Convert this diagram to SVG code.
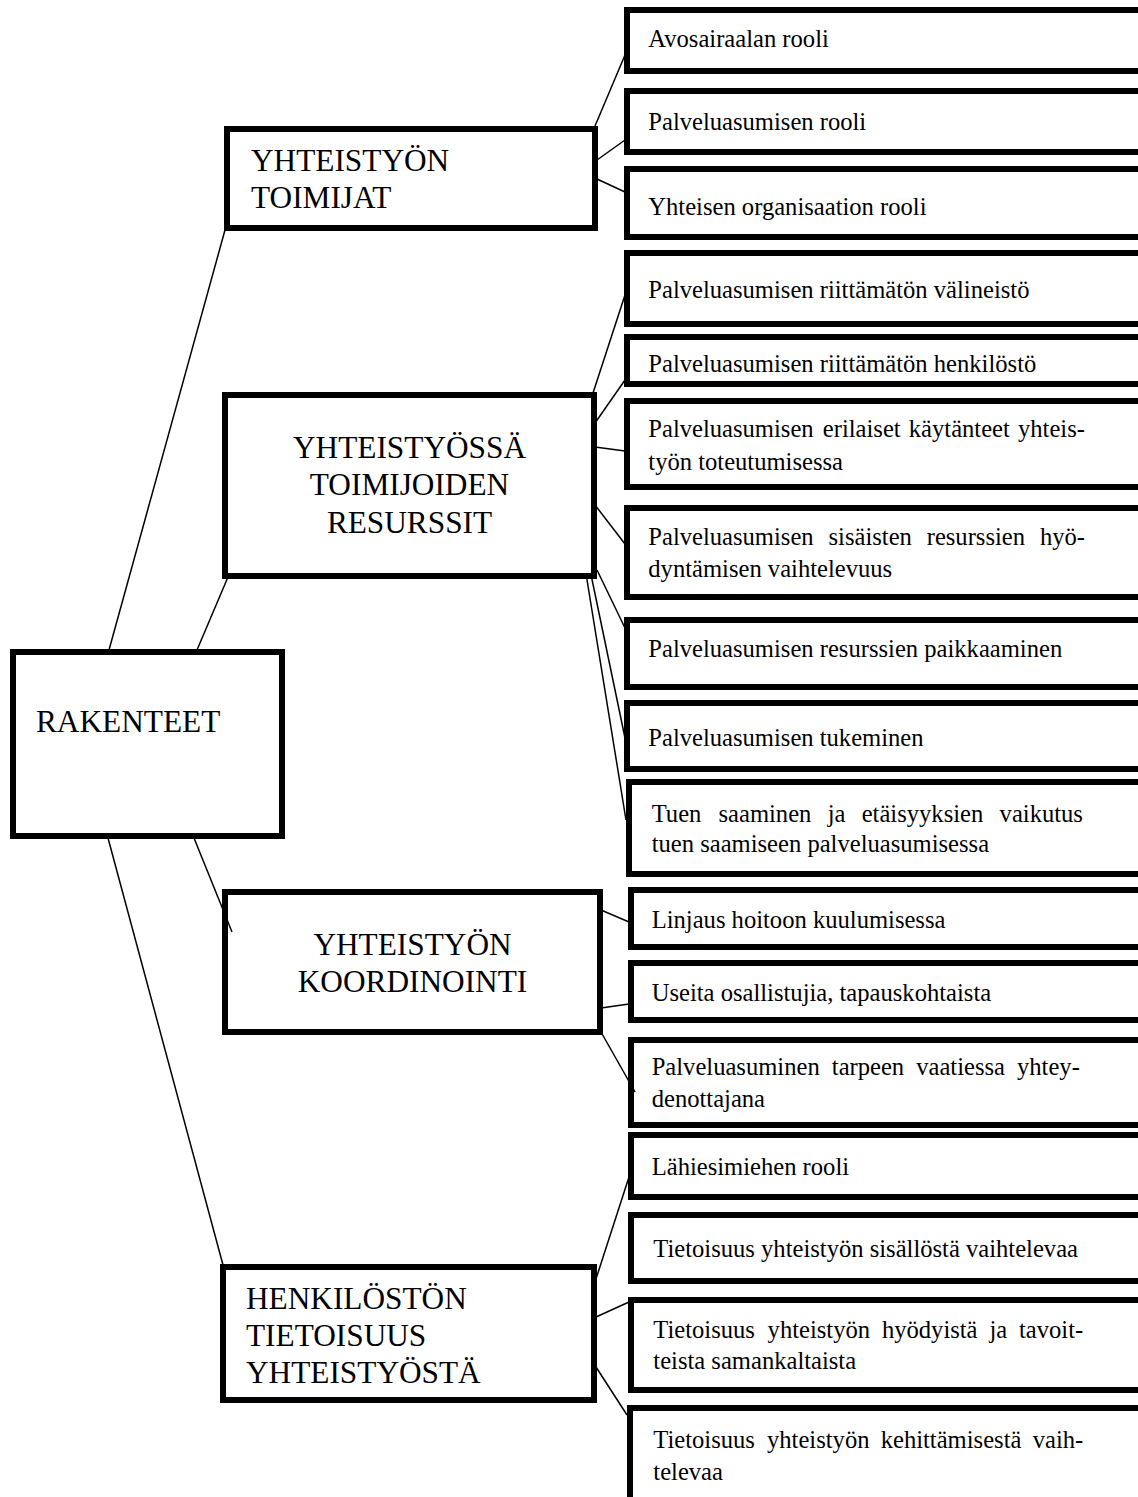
<svg xmlns="http://www.w3.org/2000/svg" width="1138" height="1497" viewBox="0 0 1138 1497">
<style>
.box{fill:#fff;stroke:#000;stroke-width:6}
.big{font-family:"Liberation Serif","Times New Roman",serif;font-size:31.3px;fill:#000}
.sm{font-family:"Liberation Serif","Times New Roman",serif;font-size:24.6px;fill:#000}
.c{text-anchor:middle}
.ln{stroke:#000;stroke-width:1.5;fill:none}
</style>
<rect width="1138" height="1497" fill="#fff"/>
<g id="rakenteet"><rect class="box" x="13" y="652" width="269" height="184"/><text class="big" x="36" y="732">RAKENTEET</text></g>
<g id="toimijat"><rect class="box" x="227" y="129" width="368" height="99"/><text class="big" x="251" y="171">YHTEISTYÖN</text><text class="big" x="251" y="208">TOIMIJAT</text></g>
<g id="resurssit"><rect class="box" x="225" y="395" width="369" height="181"/><text class="big c" x="409.5" y="458">YHTEISTYÖSSÄ</text><text class="big c" x="409.5" y="495">TOIMIJOIDEN</text><text class="big c" x="409.5" y="533">RESURSSIT</text></g>
<g id="koordinointi"><rect class="box" x="225" y="892" width="375" height="140"/><text class="big c" x="412.5" y="955">YHTEISTYÖN</text><text class="big c" x="412.5" y="992">KOORDINOINTI</text></g>
<g id="tietoisuus"><rect class="box" x="223" y="1267" width="371" height="133"/><text class="big" x="246" y="1309">HENKILÖSTÖN</text><text class="big" x="246" y="1346">TIETOISUUS</text><text class="big" x="246" y="1383">YHTEISTYÖSTÄ</text></g>

<g id="n1"><rect class="box" x="627" y="10" width="520" height="61"/><text class="sm" x="648.3" y="47">Avosairaalan rooli</text></g>
<g id="n2"><rect class="box" x="627" y="91" width="520" height="61"/><text class="sm" x="648.3" y="130">Palveluasumisen rooli</text></g>
<g id="n3"><rect class="box" x="627" y="169" width="520" height="68"/><text class="sm" x="648.3" y="215">Yhteisen organisaation rooli</text></g>
<g id="n4"><rect class="box" x="627" y="253" width="520" height="71"/><text class="sm" x="648.3" y="298">Palveluasumisen riittämätön välineistö</text></g>
<g id="n5"><rect class="box" x="627" y="337" width="520" height="47"/><text class="sm" x="648.3" y="372">Palveluasumisen riittämätön henkilöstö</text></g>
<g id="n6"><rect class="box" x="627" y="401" width="520" height="86"/><text class="sm" y="437"><tspan x="648.3">Palveluasumisen</tspan><tspan x="822.8">erilaiset</tspan><tspan x="908.8">käytänteet</tspan><tspan x="1018">yhteis-</tspan></text><text class="sm" x="648.3" y="470">työn toteutumisessa</text></g>
<g id="n7"><rect class="box" x="627" y="508" width="520" height="89"/><text class="sm" y="545"><tspan x="648.3">Palveluasumisen</tspan><tspan x="828.5">sisäisten</tspan><tspan x="926.7">resurssien</tspan><tspan x="1039.9">hyö-</tspan></text><text class="sm" x="648.3" y="577">dyntämisen vaihtelevuus</text></g>
<g id="n8"><rect class="box" x="627" y="620" width="520" height="67"/><text class="sm" x="648.3" y="657">Palveluasumisen resurssien paikkaaminen</text></g>
<g id="n9"><rect class="box" x="627" y="703" width="520" height="66"/><text class="sm" x="648.3" y="746">Palveluasumisen tukeminen</text></g>
<g id="n10"><rect class="box" x="629" y="782" width="520" height="92"/><text class="sm" y="822"><tspan x="651.7">Tuen</tspan><tspan x="718.5">saaminen</tspan><tspan x="827.7">ja</tspan><tspan x="861.7">etäisyyksien</tspan><tspan x="999.6">vaikutus</tspan></text><text class="sm" x="651.7" y="852">tuen saamiseen palveluasumisessa</text></g>
<g id="n11"><rect class="box" x="631" y="890" width="520" height="57"/><text class="sm" x="651.7" y="928">Linjaus hoitoon kuulumisessa</text></g>
<g id="n12"><rect class="box" x="631" y="963" width="520" height="57"/><text class="sm" x="651.7" y="1001">Useita osallistujia, tapauskohtaista</text></g>
<g id="n13"><rect class="box" x="631" y="1040" width="520" height="85"/><text class="sm" y="1075"><tspan x="651.7">Palveluasuminen</tspan><tspan x="831.8">tarpeen</tspan><tspan x="916.2">vaatiessa</tspan><tspan x="1017">yhtey-</tspan></text><text class="sm" x="651.7" y="1107">denottajana</text></g>
<g id="n14"><rect class="box" x="631" y="1135" width="520" height="62"/><text class="sm" x="651.7" y="1175">Lähiesimiehen rooli</text></g>
<g id="n15"><rect class="box" x="631" y="1215" width="520" height="66"/><text class="sm" x="653.3" y="1257">Tietoisuus yhteistyön sisällöstä vaihtelevaa</text></g>
<g id="n16"><rect class="box" x="631" y="1300" width="520" height="90"/><text class="sm" y="1338"><tspan x="653.3">Tietoisuus</tspan><tspan x="767.6">yhteistyön</tspan><tspan x="881.9">hyödyistä</tspan><tspan x="989.4">ja</tspan><tspan x="1019">tavoit-</tspan></text><text class="sm" x="653.3" y="1369">teista samankaltaista</text></g>
<g id="n17"><rect class="box" x="630" y="1408" width="520" height="110"/><text class="sm" y="1448"><tspan x="653.3">Tietoisuus</tspan><tspan x="767">yhteistyön</tspan><tspan x="880.7">kehittämisestä</tspan><tspan x="1032.7">vaih-</tspan></text><text class="sm" x="653.3" y="1480">televaa</text></g>

<g id="connectors">
<line class="ln" x1="109" y1="650" x2="225" y2="230"/>
<line class="ln" x1="197" y1="650" x2="228" y2="577"/>
<line class="ln" x1="108" y1="838" x2="223" y2="1265"/>
<line class="ln" x1="194" y1="838" x2="232" y2="932"/>
<line class="ln" x1="595" y1="126" x2="625" y2="55"/>
<line class="ln" x1="597" y1="160" x2="625" y2="140"/>
<line class="ln" x1="597" y1="179" x2="625" y2="192"/>
<line class="ln" x1="593" y1="393" x2="625" y2="295"/>
<line class="ln" x1="595" y1="423" x2="625" y2="380"/>
<line class="ln" x1="595" y1="447" x2="625" y2="451"/>
<line class="ln" x1="595" y1="505" x2="625" y2="544"/>
<line class="ln" x1="597" y1="570" x2="625" y2="628"/>
<line class="ln" x1="591.7" y1="578" x2="625" y2="738"/>
<line class="ln" x1="586.7" y1="578" x2="626" y2="820"/>
<line class="ln" x1="601" y1="910" x2="629" y2="922"/>
<line class="ln" x1="601" y1="1008" x2="629" y2="1004"/>
<line class="ln" x1="601" y1="1032" x2="635" y2="1092"/>
<line class="ln" x1="595" y1="1282" x2="629" y2="1177"/>
<line class="ln" x1="596" y1="1317" x2="629" y2="1302"/>
<line class="ln" x1="596" y1="1367" x2="627" y2="1415"/>
</g>
</svg>
